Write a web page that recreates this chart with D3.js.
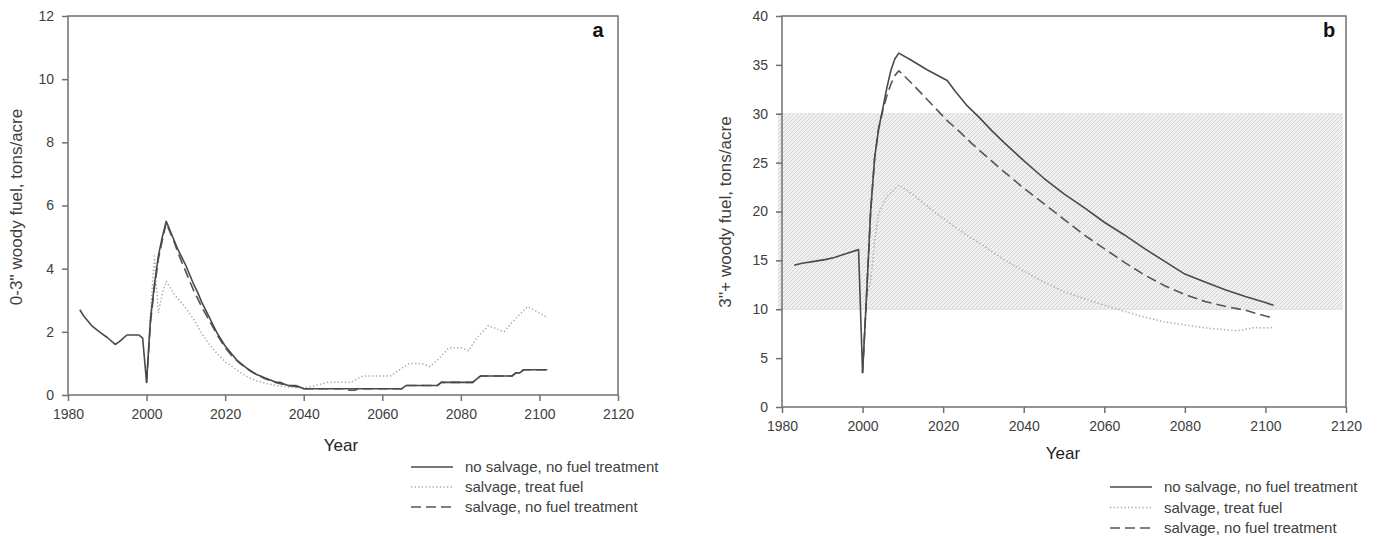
<!DOCTYPE html>
<html><head><meta charset="utf-8">
<script src="https://cdn.jsdelivr.net/npm/d3@7"></script>
<style>
body{margin:0;background:#fff}
svg{display:block}
text{font-family:"Liberation Sans",Arial,sans-serif}
</style>
</head><body>
<svg id="c" width="1378" height="539"></svg>
<script>
// ---------- data ----------
const xTicks = [1980, 2000, 2020, 2040, 2060, 2080, 2100, 2120];
const yTicksA = [0, 2, 4, 6, 8, 10, 12];
const yTicksB = [0, 5, 10, 15, 20, 25, 30, 35, 40];
const seriesNames = ["no salvage, no fuel treatment", "salvage, treat fuel", "salvage, no fuel treatment"];
const bandB = [10, 30];

// panel a: 0-3" woody fuel
const aSolid = [[1983,2.7],[1984,2.5],[1985,2.35],[1986,2.2],[1988,2.0],[1990,1.82],[1992,1.6],[1993,1.68],[1995,1.9],[1998,1.9],[1999,1.8],[2000,0.4],[2001,2.4],[2002,3.5],[2003,4.4],[2004,5.0],[2005,5.5],[2006,5.2],[2007,4.9],[2008,4.6],[2009,4.35],[2010,4.1],[2011,3.8],[2012,3.5],[2013,3.25],[2014,2.95],[2015,2.7],[2016,2.45],[2017,2.2],[2018,1.95],[2019,1.75],[2020,1.55],[2021,1.4],[2022,1.25],[2023,1.1],[2024,1.0],[2025,0.9],[2026,0.8],[2027,0.72],[2028,0.65],[2029,0.6],[2030,0.55],[2031,0.5],[2032,0.45],[2033,0.4],[2034,0.4],[2035,0.35],[2036,0.3],[2038,0.3],[2039,0.25],[2040,0.2],[2065,0.2],[2066,0.3],[2074,0.3],[2075,0.4],[2083,0.4],[2084,0.5],[2085,0.6],[2093,0.6],[2094,0.7],[2095,0.7],[2096,0.8],[2102,0.8]];
const aDotted = [[2000,0.4],[2001,2.6],[2002,4.4],[2003,2.6],[2004,3.2],[2005,3.6],[2006,3.4],[2007,3.2],[2008,3.05],[2010,2.75],[2012,2.4],[2014,1.95],[2016,1.6],[2018,1.3],[2020,1.05],[2022,0.88],[2024,0.7],[2026,0.55],[2028,0.45],[2030,0.38],[2033,0.3],[2036,0.25],[2040,0.22],[2043,0.3],[2046,0.4],[2052,0.4],[2055,0.6],[2062,0.6],[2065,0.85],[2067,1.0],[2070,1.0],[2072,0.9],[2074,1.1],[2077,1.5],[2080,1.5],[2082,1.4],[2084,1.8],[2087,2.2],[2089,2.1],[2091,2.0],[2093,2.3],[2097,2.8],[2100,2.6],[2102,2.45]];
const aDashed = [[2000,0.4],[2001,2.3],[2002,3.4],[2003,4.3],[2004,4.9],[2005,5.45],[2006,5.15],[2007,4.85],[2008,4.5],[2009,4.2],[2010,3.9],[2012,3.3],[2014,2.8],[2016,2.35],[2018,1.9],[2020,1.5],[2022,1.2],[2024,0.98],[2026,0.8],[2028,0.65],[2030,0.52],[2032,0.43],[2034,0.36],[2036,0.3],[2038,0.27],[2040,0.2],[2050,0.2],[2051,0.15],[2053,0.15],[2054,0.2],[2065,0.2],[2066,0.3],[2074,0.3],[2075,0.4],[2083,0.4],[2084,0.5],[2085,0.6],[2093,0.6],[2094,0.7],[2095,0.7],[2096,0.8],[2102,0.8]];

// panel b: 3"+ woody fuel
const bSolid = [[1983,14.5],[1985,14.7],[1988,14.9],[1991,15.1],[1993,15.3],[1996,15.7],[1999,16.1],[2000,3.5],[2001,11.5],[2002,20],[2003,25.5],[2004,28.5],[2005,30.5],[2006,32.6],[2007,34.4],[2008,35.6],[2009,36.2],[2012,35.5],[2016,34.5],[2021,33.4],[2023,32.3],[2026,30.8],[2029,29.6],[2032,28.3],[2035,27.1],[2040,25.2],[2045,23.4],[2050,21.8],[2055,20.4],[2060,18.9],[2065,17.6],[2070,16.2],[2075,14.9],[2080,13.6],[2085,12.8],[2090,12.0],[2095,11.3],[2100,10.7],[2102,10.4]];
const bDotted = [[2000,3.5],[2001,11.5],[2002,12.8],[2003,17],[2004,19.8],[2006,21.5],[2009,22.7],[2012,21.9],[2015,20.9],[2018,19.9],[2021,19.0],[2024,18.1],[2027,17.3],[2030,16.5],[2035,15.1],[2040,13.9],[2045,12.8],[2050,11.8],[2055,11.1],[2060,10.4],[2065,9.8],[2070,9.2],[2075,8.7],[2080,8.4],[2085,8.1],[2090,7.9],[2093,7.8],[2097,8.1],[2102,8.1]];
const bDashed = [[2000,3.5],[2001,11.5],[2002,20],[2003,25.5],[2004,28.5],[2005,30.3],[2006,31.8],[2007,33.0],[2008,33.9],[2009,34.4],[2012,33.2],[2015,31.9],[2018,30.6],[2021,29.3],[2024,28.2],[2027,27.0],[2030,25.9],[2035,24.1],[2040,22.4],[2045,20.8],[2050,19.2],[2055,17.6],[2060,16.2],[2065,14.8],[2070,13.5],[2075,12.4],[2080,11.5],[2085,10.8],[2090,10.3],[2095,9.9],[2100,9.3],[2102,9.1]];

// ---------- drawing ----------
const svg = d3.select("#c");
const defs = svg.append("defs");
const pat = defs.append("pattern").attr("id","hatch").attr("patternUnits","userSpaceOnUse")
  .attr("width",4).attr("height",4);
pat.append("rect").attr("width",4).attr("height",4).attr("fill","#f0f0f0");
pat.append("path").attr("d","M-1,1 l2,-2 M0,4 l4,-4 M3,5 l2,-2")
  .attr("stroke","#cdcdcd").attr("stroke-width",0.8);

const styles = [
  {stroke:"#4a4a4a", dash:null, width:1.6},
  {stroke:"#a8a8a8", dash:"1.3,2.3", width:1.5},
  {stroke:"#555555", dash:"10,5", width:1.6}
];

function drawPanel(cfg){
  const x = d3.scaleLinear().domain([1980,2120]).range(cfg.xr);
  const y = d3.scaleLinear().domain([0,cfg.ymax]).range(cfg.yr);
  const g = svg.append("g");

  if (cfg.band){
    g.append("rect")
      .attr("x", x.range()[0]-4).attr("width", x.range()[1]-x.range()[0]+1)
      .attr("y", y(cfg.band[1])).attr("height", y(cfg.band[0])-y(cfg.band[1]))
      .attr("fill","url(#hatch)");
    g.append("line").attr("x1",x.range()[0]-4).attr("x2",x.range()[1]-3)
      .attr("y1",y(cfg.band[1])).attr("y2",y(cfg.band[1]))
      .attr("stroke","#c4c4c4").attr("stroke-dasharray","1,1.5");
    g.append("line").attr("x1",x.range()[0]-4).attr("x2",x.range()[1]-3)
      .attr("y1",y(cfg.band[0])).attr("y2",y(cfg.band[0]))
      .attr("stroke","#dddddd");
  }

  const line = d3.line().x(d=>x(d[0])).y(d=>y(d[1]));
  const order = [1,2,0];
  order.forEach(i=>{
    const s = styles[i];
    g.append("path").datum(cfg.series[i]).attr("d",line)
      .attr("fill","none").attr("stroke",s.stroke).attr("stroke-width",s.width)
      .attr("stroke-dasharray",s.dash).attr("stroke-linejoin","round");
  });

  // frame
  g.append("rect").attr("x",x.range()[0]).attr("y",y.range()[1])
    .attr("width",x.range()[1]-x.range()[0]).attr("height",y.range()[0]-y.range()[1])
    .attr("fill","none").attr("stroke","#707070").attr("stroke-width",1.5);

  const xa = g.append("g").attr("transform",`translate(0,${y.range()[0]})`)
    .call(d3.axisBottom(x).tickValues(xTicks).tickFormat(d3.format("d")).tickSize(6).tickSizeOuter(0).tickPadding(8));
  const ya = g.append("g").attr("transform",`translate(${x.range()[0]},0)`)
    .call(d3.axisLeft(y).tickValues(cfg.yticks).tickSize(6).tickSizeOuter(0).tickPadding(8));
  [xa,ya].forEach(a=>{
    a.select(".domain").remove();
    a.selectAll("line").attr("stroke","#707070").attr("stroke-width",1.5);
    a.selectAll("text").attr("fill","#404040").style("font-size","14px")
      .style("font-family",'"Liberation Sans",Arial,sans-serif');
  });

  g.append("text").attr("x",cfg.xlab[0]).attr("y",cfg.xlab[1]).attr("text-anchor","middle")
    .attr("fill","#222").style("font-size","17px").text("Year");
  g.append("text").attr("transform",`translate(${cfg.ylab[0]},${cfg.ylab[1]}) rotate(-90)`)
    .attr("text-anchor","middle").attr("fill","#404040").style("font-size","17px").text(cfg.ylabel);
  g.append("text").attr("x",cfg.letter[0]).attr("y",cfg.letter[1]).attr("text-anchor","middle")
    .attr("fill","#111").style("font-size","20px").style("font-weight","bold").text(cfg.letterText);

  // legend
  const lg = g.append("g");
  seriesNames.forEach((nm,i)=>{
    const s = styles[i];
    const yy = cfg.leg.y0 + i*cfg.leg.dy;
    lg.append("line").attr("x1",cfg.leg.x0).attr("x2",cfg.leg.x0+42).attr("y1",yy).attr("y2",yy)
      .attr("stroke",s.stroke).attr("stroke-width",s.width).attr("stroke-dasharray",s.dash);
    lg.append("text").attr("x",cfg.leg.x0+54).attr("y",yy+5).attr("fill","#404040")
      .style("font-size","15px").text(nm);
  });
}

drawPanel({
  xr:[68,618], yr:[395,16], ymax:12, yticks:yTicksA,
  series:[aSolid,aDotted,aDashed],
  xlab:[341,451], ylab:[22,207], ylabel:"0-3'' woody fuel, tons/acre",
  letter:[598,37], letterText:"a",
  leg:{x0:411, y0:467, dy:20}
});
drawPanel({
  xr:[782,1346], yr:[407,16], ymax:40, yticks:yTicksB, band:bandB,
  series:[bSolid,bDotted,bDashed],
  xlab:[1063,459], ylab:[731,212], ylabel:"3''+ woody fuel, tons/acre",
  letter:[1329,37], letterText:"b",
  leg:{x0:1110, y0:487, dy:20.5}
});
</script>
</body></html>
